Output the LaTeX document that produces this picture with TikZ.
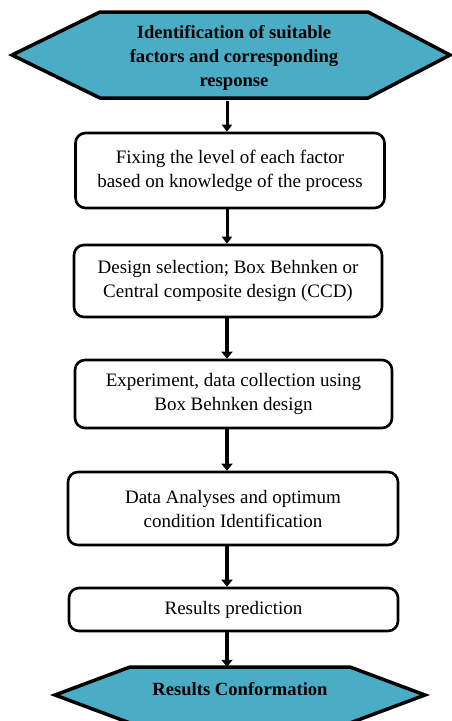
\documentclass[tikz,border=0pt]{standalone}
\usepackage{fontspec}
\setmainfont{Liberation Serif}
\usetikzlibrary{arrows.meta}
\definecolor{teal}{HTML}{4BACC6}
\begin{document}
\begin{tikzpicture}[x=1pt,y=-1pt,
  box/.style={draw=black,line width=2.6pt,rounded corners=10pt,fill=white,
    align=center,inner sep=0pt,font=\fontsize{19}{24}\selectfont},
  hex/.style={fill=teal,draw=black,line width=3.5pt,line join=miter},
  htext/.style={align=center,inner sep=0pt,font=\bfseries\fontsize{18.6}{24}\selectfont},
  thin/.style={line width=3pt,-{Triangle[width=10pt,length=7pt]}},
  thick/.style={line width=4.4pt,-{Triangle[width=11pt,length=7pt]}}]
\useasboundingbox (0,0) rectangle (452,721);
\begin{scope}
\clip (0,0) rectangle (452,721);
% top hexagon
\draw[hex] (12,55) -- (100,12) -- (368,12) -- (450,55) -- (368,98) -- (100,98) -- cycle;
\node[htext,minimum height=86pt] (h1) at (234,57.5) {Identification of suitable\\factors and corresponding\\response};
% bottom hexagon
\draw[hex] (55,695) -- (130,667) -- (350,667) -- (425,695) -- (350,723) -- (130,723) -- cycle;
\node[htext,minimum height=56pt] (h2) at (240,695) {};
\node[htext] at (240,689) {Results Conformation};
\end{scope}
\node[box,minimum width=309pt,minimum height=75pt] (b1) at (230,170.5) {Fixing the level of each factor\\based on knowledge of the process};
\node[box,minimum width=308pt,minimum height=72pt] (b2) at (228,281) {Design selection; Box Behnken or\\Central composite design (CCD)};
\node[box,minimum width=317pt,minimum height=68pt] (b3) at (233.5,394) {Experiment, data collection using\\Box Behnken design};
\node[box,minimum width=330pt,minimum height=73pt] (b4) at (233,508.5) {Data Analyses and optimum\\condition Identification};
\node[box,minimum width=329pt,minimum height=43pt] (b5) at (233.5,609.5) {Results prediction};
\coordinate (ax) at (227,0);
\draw[thin] (h1.south -| ax) -- (b1.north -| ax);
\draw[thin] (b1.south -| ax) -- (b2.north -| ax);
\draw[thick] (b2.south -| ax) -- (b3.north -| ax);
\draw[thick] (b3.south -| ax) -- (b4.north -| ax);
\draw[thick] (b4.south -| ax) -- (b5.north -| ax);
\draw[thick] (b5.south -| ax) -- (h2.north -| ax);
\end{tikzpicture}
\end{document}
